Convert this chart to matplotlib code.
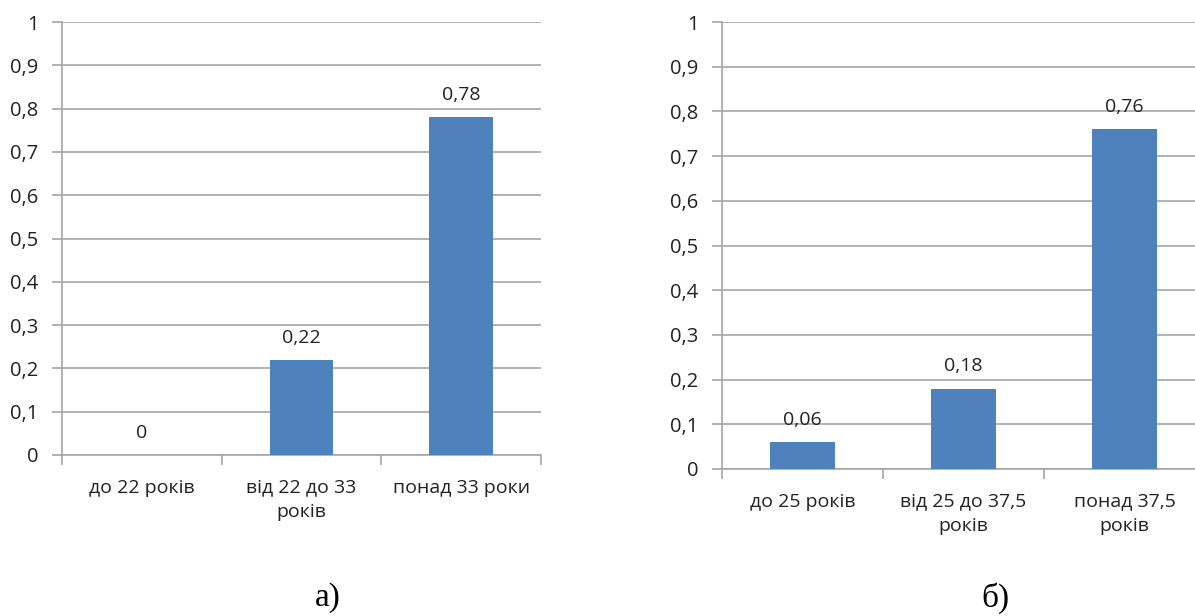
import matplotlib.pyplot as plt

# data
cats_a = ['до 22 років', 'від 22 до 33\nроків', 'понад 33 роки']
vals_a = [0.0, 0.22, 0.78]
labels_a = ['0', '0,22', '0,78']

cats_b = ['до 25 років', 'від 25 до 37,5\nроків', 'понад 37,5\nроків']
vals_b = [0.06, 0.18, 0.76]
labels_b = ['0,06', '0,18', '0,76']

yticks = [0, 0.1, 0.2, 0.3, 0.4, 0.5, 0.6, 0.7, 0.8, 0.9, 1.0]
ytick_labels = ['0', '0,1', '0,2', '0,3', '0,4', '0,5', '0,6', '0,7', '0,8', '0,9', '1']

BAR = '#4F81BD'
GRID = '#A6A6A6'
FONT = ['Open Sans', 'DejaVu Sans']
FS = 14

W, H = 1195, 616
fig = plt.figure(figsize=(W / 100, H / 100), dpi=100)


def make_axes(x0, x1, ytop, ybot):
	return fig.add_axes([x0 / W, (H - ybot) / H, (x1 - x0) / W, (ybot - ytop) / H])


def draw(ax, cats, vals, labels, caption, cap_x):
	x = range(len(cats))
	ax.bar(x, vals, width=0.4, color=BAR, zorder=3)
	for xi, v, lab in zip(x, vals, labels):
		ax.annotate(lab, (xi, v), xytext=(0, 16), textcoords='offset points',
			ha='center', va='center', fontsize=FS, color='#222222', family=FONT)
	ax.set_xlim(-0.5, len(cats) - 0.5)
	ax.set_ylim(0, 1)
	ax.set_yticks(yticks)
	ax.set_yticklabels(ytick_labels, fontsize=FS + 0.5, family=FONT, color='#222222')
	ax.yaxis.grid(True, color=GRID, linewidth=1.2, zorder=0)
	ax.tick_params(axis='y', length=7, width=1.2, color=GRID, pad=10)
	# category boundaries as major ticks, labels on minor ticks
	ax.set_xticks([i - 0.5 for i in range(len(cats) + 1)])
	ax.set_xticklabels([])
	ax.set_xticks(list(x), minor=True)
	ax.set_xticklabels(cats, minor=True, fontsize=FS, family=FONT, color='#222222', linespacing=1.45)
	ax.tick_params(axis='x', which='major', length=7, width=1.2, color=GRID)
	ax.tick_params(axis='x', which='minor', length=0, pad=17)
	for s in ['top', 'right']:
		ax.spines[s].set_visible(False)
	for s in ['left', 'bottom']:
		ax.spines[s].set_color(GRID)
		ax.spines[s].set_linewidth(1.2)
	fig.text(cap_x / W, 1 - 598 / H, caption, ha='center', va='center',
		fontsize=24, family='Liberation Serif')


ax1 = make_axes(62, 541, 22, 455)
draw(ax1, cats_a, vals_a, labels_a, 'а)', 328)

ax2 = make_axes(722, 1205, 22, 469)
draw(ax2, cats_b, vals_b, labels_b, 'б)', 995)

fig.savefig('out.png', dpi=100)
